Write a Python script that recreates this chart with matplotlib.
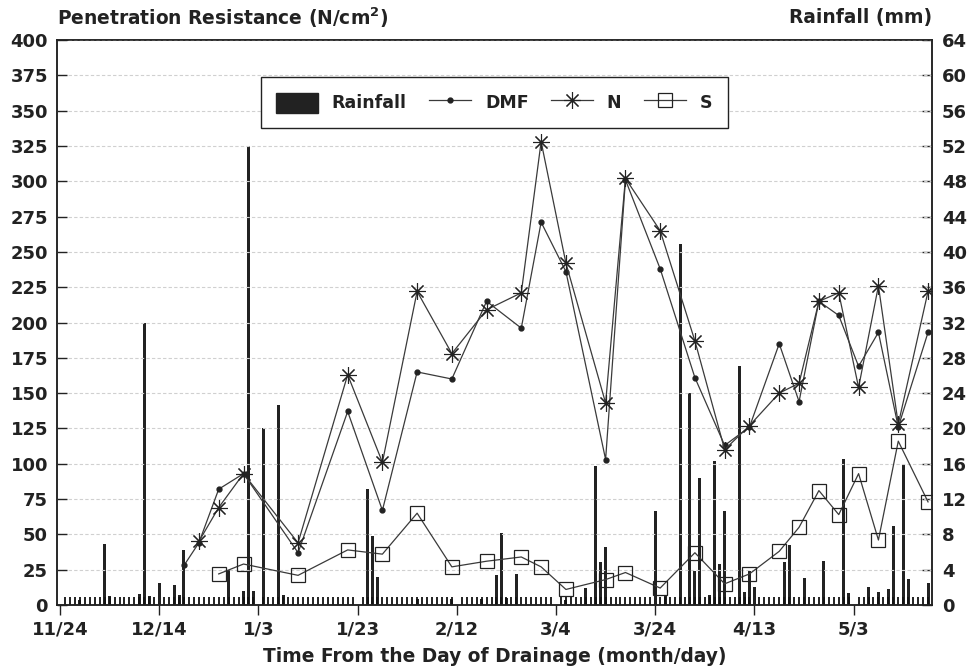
import numpy as np
import matplotlib
matplotlib.use("Agg")
import matplotlib.pyplot as plt
from matplotlib.lines import Line2D
from matplotlib.patches import Patch

plt.rcParams['font.family'] = ['DejaVu Sans']
plt.rcParams['font.weight'] = 'bold'
plt.rcParams['mathtext.default'] = 'bf'

# days after drainage (day 0 = 11/24)
dmf_days = [25, 28, 32, 37, 48, 58, 65, 72, 79, 86, 93, 97, 102, 110, 114, 121,
            128, 134, 139, 145, 149, 153, 157, 161, 165, 169, 175]
dmf = [28, 44, 82, 93, 37, 137, 67, 165, 160, 215, 196, 271, 236, 103, 301, 238,
       161, 113, 126, 185, 144, 215, 205, 169, 193, 126, 193]

n_days = dmf_days[1:]
n_vals = [45, 69, 93, 44, 163, 101, 222, 178, 209, 221, 328, 242, 143, 302, 265,
          187, 110, 127, 150, 157, 215, 221, 154, 226, 128, 222]

s_days = [32, 37, 48, 58, 65, 72, 79, 86, 93, 97, 102, 110, 114, 121, 128, 134,
          139, 145, 149, 153, 157, 161, 165, 169, 175]
s_vals = [22, 29, 21, 39, 36, 65, 27, 31, 34, 27, 11, 18, 23, 12, 37, 15,
          22, 38, 55, 81, 64, 93, 46, 116, 73]

rain_days = [4, 9, 10, 16, 17, 18, 20, 23, 24, 25, 34, 37, 38, 39, 41, 44, 45,
             62, 63, 64, 72, 79, 85, 88, 89, 90, 92, 102, 106, 108, 109, 110,
             120, 122, 125, 127, 128, 129, 131, 132, 133, 134, 137, 138, 139, 140,
             146, 147, 150, 154, 158, 159, 163, 165, 167, 168, 170, 171, 175]
rain = [0.6, 6.9, 1.0, 1.2, 32, 1.0, 2.5, 2.3, 1.1, 6.2, 4.0, 1.6, 52, 1.6, 20.1, 22.6, 1.1,
        13.1, 7.8, 3.2, 0.7, 0.7, 0.7, 3.4, 8.2, 0.8, 3.5, 0.6, 1.9, 15.8, 4.9, 6.6,
        10.7, 1.0, 40.9, 24.0, 3.9, 14.4, 1.1, 16.3, 4.7, 10.7, 27.1, 1.5, 3.8, 2.0,
        4.9, 6.8, 3.1, 5.0, 16.5, 1.4, 2.0, 1.5, 1.8, 8.9, 15.9, 3.0, 2.5]

tick_days = [0, 20, 40, 60, 80, 100, 120, 140, 160]
tick_labels = ['11/24', '12/14', '1/3', '1/23', '2/12', '3/4', '3/24', '4/13', '5/3']

ink = '#222222'
line_c = '#3a3a3a'

fig = plt.figure(figsize=(9.73, 6.66), dpi=100)
ax = fig.add_axes([57/973, 61/666, 875/973, 565/666])
ax2 = ax.twinx()

# rainfall bars on the right axis
ax2.bar(rain_days, rain, width=0.6, color=ink, zorder=2)
ax2.set_ylim(0, 64)
ax2.set_yticks(range(0, 65, 4))

# resistance lines on the left axis, drawn over the bars
ax.set_zorder(ax2.get_zorder() + 1)
ax.patch.set_visible(False)
ax.plot(dmf_days, dmf, color=line_c, lw=0.9, marker='o', ms=3.5, mfc=ink, mec=ink)
ax.plot(n_days, n_vals, color=line_c, lw=0.9, marker=(8, 2, 0), ms=12, mew=0.8, mec=ink)
ax.plot(s_days, s_vals, color=line_c, lw=0.9, marker='s', ms=10, mfc='none', mew=0.9, mec=ink)

ax.set_xlim(-0.6, 175.8)
ax.set_ylim(0, 400)
ax.set_yticks(range(0, 401, 25))
ax.set_xticks(tick_days)
ax.set_xticklabels(tick_labels)
ax.set_xticks(np.arange(0, 176, 1), minor=True)
ax.yaxis.grid(True, color='#d0d0d0', lw=0.8, ls=(0, (3, 2)))
ax.set_axisbelow(True)

ax.tick_params(axis='y', direction='in', length=7, width=1, pad=6.5, labelsize=13, colors=ink)
ax.tick_params(axis='x', which='major', direction='out', length=7, width=1, pad=4, labelsize=13, colors=ink)
ax.tick_params(axis='x', which='minor', direction='in', length=6, width=1.3, color='#111111')
ax2.tick_params(axis='y', direction='in', length=7, width=1, pad=7, labelsize=13, colors=ink)

for a in (ax, ax2):
    for sp in a.spines.values():
        sp.set_linewidth(1.1)
        sp.set_color(ink)

ax.set_xlabel('Time From the Day of Drainage (month/day)', fontsize=13.4, fontweight='bold',
              color=ink, labelpad=6)
fig.text(57/973, 1 - 18/666, 'Penetration Resistance (N/cm$^2$)', ha='left', va='center',
         fontsize=13.4, color=ink)
fig.text(932/973, 1 - 18/666, 'Rainfall (mm)', ha='right', va='center', fontsize=13.4, color=ink)

handles = [Patch(facecolor=ink, edgecolor=ink),
           Line2D([], [], color=line_c, lw=0.9, marker='o', ms=3.5, mfc=ink, mec=ink),
           Line2D([], [], color=line_c, lw=0.9, marker=(8, 2, 0), ms=12, mew=0.8, mec=ink),
           Line2D([], [], color=line_c, lw=0.9, marker='s', ms=10, mfc='none', mew=0.9, mec=ink)]
leg = ax.legend(handles, ['Rainfall', 'DMF', 'N', 'S'], ncol=4, loc='upper center',
                bbox_to_anchor=(0.4995, 0.95), fancybox=False, framealpha=1,
                edgecolor=ink, fontsize=12.5, handlelength=2.4, handleheight=1.4,
                columnspacing=1.3, borderpad=0.9)
leg.get_frame().set_linewidth(1.0)
for t in leg.get_texts():
    t.set_color(ink)

fig.savefig('out.png', dpi=100)
